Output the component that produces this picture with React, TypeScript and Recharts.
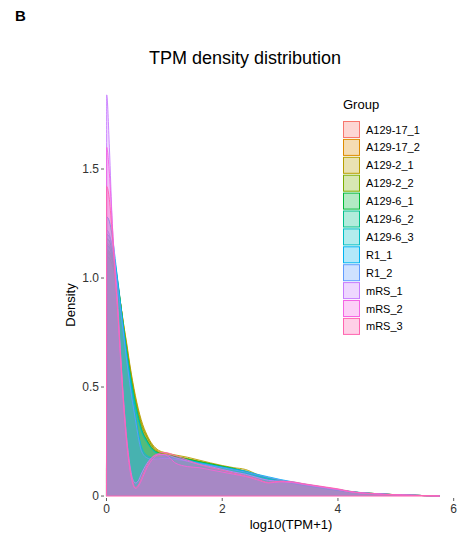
import React from 'react';
import { AreaChart, Area, XAxis, YAxis, ReferenceLine } from 'recharts';

const xs = [0, 0.003, 0.05, 0.1, 0.15, 0.2, 0.25, 0.3, 0.35, 0.4, 0.45, 0.5, 0.55, 0.6, 0.7, 0.8, 0.9, 1.0, 1.2, 1.4, 1.6, 1.8, 2.0, 2.2, 2.4, 2.6, 2.8, 3.0, 3.2, 3.4, 3.6, 3.8, 4.0, 4.2, 4.4, 4.6, 4.8, 5.0, 5.25, 5.5, 5.76];

const groups = ['A129-17_1', 'A129-17_2', 'A129-2_1', 'A129-2_2', 'A129-6_1', 'A129-6_2', 'A129-6_3', 'R1_1', 'R1_2', 'mRS_1', 'mRS_2', 'mRS_3'];
const colors = ['#F8766D', '#DE8C00', '#B79F00', '#7CAE00', '#00BA38', '#00C08B', '#00BFC4', '#00B4F0', '#619CFF', '#C77CFF', '#F564E3', '#FF64B0'];

const a129_17_1 = [0, 1.16, 1.15, 1.11, 1.05, 0.97, 0.87, 0.77, 0.67, 0.58, 0.50, 0.43, 0.37, 0.32, 0.26, 0.22, 0.2, 0.19, 0.178, 0.168, 0.155, 0.145, 0.133, 0.122, 0.11, 0.094, 0.08, 0.07, 0.062, 0.052, 0.044, 0.036, 0.028, 0.02, 0.015, 0.012, 0.009, 0.006, 0.004, 0.002, 0];
const a129_17_2 = [0, 1.12, 1.11, 1.08, 1.03, 0.96, 0.87, 0.78, 0.69, 0.60, 0.52, 0.45, 0.39, 0.34, 0.275, 0.23, 0.205, 0.195, 0.182, 0.172, 0.16, 0.148, 0.136, 0.125, 0.115, 0.096, 0.082, 0.071, 0.063, 0.053, 0.045, 0.037, 0.029, 0.021, 0.015, 0.012, 0.009, 0.006, 0.004, 0.002, 0];
const a129_2_1 = [0, 1.10, 1.09, 1.06, 1.01, 0.95, 0.87, 0.78, 0.70, 0.61, 0.53, 0.46, 0.40, 0.35, 0.28, 0.235, 0.21, 0.2, 0.188, 0.178, 0.165, 0.152, 0.14, 0.13, 0.122, 0.1, 0.083, 0.072, 0.063, 0.053, 0.045, 0.036, 0.028, 0.02, 0.015, 0.012, 0.009, 0.006, 0.004, 0.002, 0];
const a129_2_2 = [0, 1.13, 1.12, 1.09, 1.03, 0.96, 0.87, 0.77, 0.68, 0.59, 0.51, 0.44, 0.38, 0.33, 0.27, 0.225, 0.2, 0.192, 0.18, 0.17, 0.158, 0.147, 0.135, 0.124, 0.113, 0.095, 0.081, 0.07, 0.062, 0.052, 0.044, 0.036, 0.028, 0.02, 0.015, 0.012, 0.009, 0.006, 0.004, 0.002, 0];
const a129_6_1 = [0, 1.18, 1.17, 1.12, 1.06, 0.97, 0.87, 0.76, 0.66, 0.57, 0.49, 0.42, 0.36, 0.31, 0.255, 0.215, 0.198, 0.19, 0.18, 0.17, 0.158, 0.148, 0.137, 0.127, 0.112, 0.096, 0.082, 0.07, 0.061, 0.051, 0.043, 0.035, 0.027, 0.019, 0.014, 0.011, 0.008, 0.006, 0.004, 0.002, 0];
const a129_6_2 = [0, 1.15, 1.14, 1.1, 1.04, 0.96, 0.86, 0.76, 0.66, 0.57, 0.49, 0.42, 0.36, 0.31, 0.25, 0.212, 0.195, 0.187, 0.176, 0.166, 0.154, 0.144, 0.132, 0.121, 0.108, 0.093, 0.079, 0.069, 0.06, 0.05, 0.042, 0.034, 0.027, 0.019, 0.014, 0.011, 0.008, 0.006, 0.004, 0.002, 0];
const a129_6_3 = [0, 1.2, 1.19, 1.14, 1.07, 0.98, 0.87, 0.76, 0.65, 0.56, 0.48, 0.41, 0.35, 0.3, 0.245, 0.21, 0.193, 0.185, 0.175, 0.165, 0.153, 0.143, 0.131, 0.12, 0.107, 0.092, 0.078, 0.068, 0.059, 0.049, 0.041, 0.033, 0.026, 0.019, 0.014, 0.011, 0.008, 0.006, 0.004, 0.002, 0];
const r1_1 = [0, 1.28, 1.26, 1.19, 1.09, 0.97, 0.85, 0.74, 0.64, 0.54, 0.45, 0.37, 0.29, 0.23, 0.185, 0.175, 0.176, 0.178, 0.172, 0.163, 0.152, 0.142, 0.133, 0.124, 0.115, 0.1, 0.088, 0.076, 0.066, 0.056, 0.047, 0.038, 0.03, 0.022, 0.016, 0.012, 0.009, 0.006, 0.004, 0.002, 0];
const r1_2 = [0, 1.22, 1.2, 1.14, 1.05, 0.95, 0.84, 0.73, 0.62, 0.52, 0.43, 0.35, 0.27, 0.21, 0.175, 0.168, 0.17, 0.173, 0.168, 0.16, 0.15, 0.14, 0.13, 0.12, 0.11, 0.097, 0.085, 0.074, 0.064, 0.054, 0.045, 0.037, 0.029, 0.021, 0.015, 0.012, 0.009, 0.006, 0.004, 0.002, 0];
const mrs_1 = [0, 1.84, 1.6, 1.25, 1.06, 0.86, 0.62, 0.42, 0.26, 0.15, 0.08, 0.06, 0.07, 0.1, 0.15, 0.18, 0.19, 0.19, 0.175, 0.16, 0.145, 0.135, 0.122, 0.11, 0.1, 0.085, 0.072, 0.068, 0.062, 0.054, 0.046, 0.038, 0.03, 0.02, 0.014, 0.011, 0.008, 0.006, 0.004, 0.002, 0];
const mrs_2 = [0, 1.6, 1.48, 1.25, 1.02, 0.82, 0.6, 0.4, 0.24, 0.13, 0.06, 0.035, 0.045, 0.07, 0.13, 0.17, 0.19, 0.19, 0.15, 0.135, 0.13, 0.12, 0.11, 0.1, 0.09, 0.075, 0.06, 0.065, 0.064, 0.055, 0.047, 0.039, 0.031, 0.02, 0.014, 0.011, 0.008, 0.006, 0.004, 0.002, 0];
const mrs_3 = [0, 1.42, 1.36, 1.2, 1.01, 0.83, 0.62, 0.42, 0.26, 0.14, 0.07, 0.04, 0.05, 0.08, 0.14, 0.18, 0.195, 0.2, 0.185, 0.165, 0.145, 0.13, 0.118, 0.105, 0.093, 0.078, 0.063, 0.068, 0.066, 0.057, 0.049, 0.041, 0.033, 0.022, 0.015, 0.011, 0.008, 0.006, 0.004, 0.002, 0];

const seriesValues = [a129_17_1, a129_17_2, a129_2_1, a129_2_2, a129_6_1, a129_6_2, a129_6_3, r1_1, r1_2, mrs_1, mrs_2, mrs_3];

const xTicks = [0, 2, 4, 6];
const yTicks = [0, 0.5, 1, 1.5];

const rows = xs.map((x, i) => {
  const r: Record<string, number> = { x };
  groups.forEach((g, k) => { r[g] = seriesValues[k][i]; });
  return r;
});

const W = 462;
const H = 539;
const FONT = '"Liberation Sans", Arial, Helvetica, sans-serif';
const ALPHA = 0.25;

export default function App() {
  return (
    <div style={{ position: 'absolute', left: 0, top: 0, width: W, height: H, background: '#fff', fontFamily: FONT }}>
      <AreaChart width={W} height={H} data={rows} margin={{ top: 77, right: 6, bottom: 11, left: 44 }}>
        <XAxis
          type="number"
          dataKey="x"
          domain={[-0.043, 6.04]}
          ticks={xTicks}
          allowDataOverflow
          interval={0}
          axisLine={false}
          tickLine={{ stroke: '#333', strokeWidth: 0.8 }}
          tickSize={3}
          tickMargin={3}
          height={30}
          tick={{ fontSize: 12, fill: '#333', fontFamily: FONT }}
        />
        <YAxis
          type="number"
          domain={[-0.009, 1.922]}
          ticks={yTicks}
          allowDataOverflow
          interval={0}
          axisLine={false}
          tickLine={{ stroke: '#333', strokeWidth: 0.8 }}
          tickSize={3}
          tickMargin={2}
          width={60}
          tickFormatter={(v: number) => (v === 0 ? '0' : v.toFixed(1))}
          tick={{ fontSize: 12, fill: '#333', fontFamily: FONT }}
        />
        {groups.map((g, k) => (
          <Area
            key={g}
            type="monotone"
            dataKey={g}
            stroke={colors[k]}
            strokeWidth={0.9}
            fill={colors[k]}
            fillOpacity={ALPHA}
            baseValue={0}
            dot={false}
            activeDot={false}
            isAnimationActive={false}
          />
        ))}
        <ReferenceLine segment={[{ x: 0, y: 0 }, { x: 5.76, y: 0 }]} stroke="#FF64B0" strokeWidth={1} />
      </AreaChart>
      <svg width={W} height={H} style={{ position: 'absolute', left: 0, top: 0, pointerEvents: 'none' }} fontFamily={FONT}>
        <text x={15} y={21} fontSize={15} fontWeight="bold" fill="#000">B</text>
        <text x={245} y={64} fontSize={18} textAnchor="middle" fill="#000">TPM density distribution</text>
        <text transform="translate(75,305) rotate(-90)" fontSize={13} textAnchor="middle" fill="#000">Density</text>
        <text x={291} y={529} fontSize={13} textAnchor="middle" fill="#000">log10(TPM+1)</text>
        <text x={343} y={109} fontSize={13} fill="#000">Group</text>
        {groups.map((g, k) => (
          <g key={g}>
            <rect x={343.5} y={121.5 + k * 17.9} width={16} height={16} fill={colors[k]} fillOpacity={0.3} stroke={colors[k]} strokeWidth={1} />
            <text x={366} y={133.5 + k * 17.9} fontSize={11} fill="#000">{g}</text>
          </g>
        ))}
      </svg>
    </div>
  );
}
